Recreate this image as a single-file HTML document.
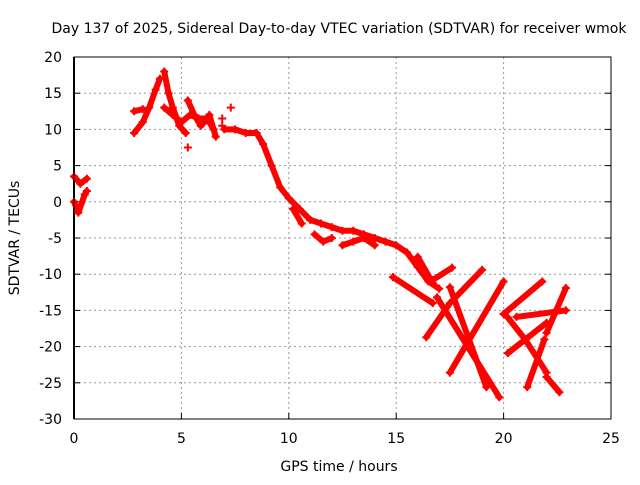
<!DOCTYPE html>
<html><head><meta charset="utf-8"><style>
body{margin:0;background:#fff}
svg text{font-family:"DejaVu Sans","Liberation Sans",sans-serif;font-size:14px;fill:#000}
</style></head><body>
<svg id="chart" width="640" height="480">
<text x="339" y="33" text-anchor="middle">Day 137 of 2025, Sidereal Day-to-day VTEC variation (SDTVAR) for receiver wmok</text>
<text x="339" y="471" text-anchor="middle">GPS time / hours</text>
<text transform="translate(19,238) rotate(-90)" text-anchor="middle">SDTVAR / TECUs</text>
<g id="grid"></g><g id="marks"></g>
<rect x="74" y="57" width="537" height="362" fill="none" stroke="#000" stroke-width="1"/>
</svg>
<script>
const xTicks=[0,5,10,15,20,25];
const yTicks=[20,15,10,5,0,-5,-10,-15,-20,-25,-30];
// each track: times (hours) and SDTVAR values (TECU)
const trackTimes=[
[0.0,0.3,0.6],[0.0,0.2,0.5,0.6],
[2.8,3.2,3.5,3.8,4.0],[2.8,3.2],
[4.2,4.4,4.6,4.9,5.2],
[4.2,4.6,5.0,5.4,5.8,6.2,6.5],
[5.3,5.6,5.9,6.0,6.3,6.6],
[7.0,7.5,8.0,8.5,8.8,9.2,9.6,10.0,10.5,11.0,11.5,12.0,12.5,13.0,13.5,14.0,14.5,15.0,15.5,16.0,16.5,17.0],
[10.2,10.6],[11.2,11.6,12.0],[12.5,13.0,13.5,14.0],
[14.85,16.7],[16.0,16.7],[16.7,17.6],
[16.4,17.5,19.0],[17.5,20.0],
[16.9,19.8],[17.5,19.2],
[20.0,21.8],[20.2,22.0],[20.2,21.0,22.0],[21.1,21.9],[22.0,22.9],[20.6,22.9],[22.0,22.6],
[5.3],[7.3],[6.9],[6.9]
];
const trackValues=[
[3.5,2.5,3.2],[0,-1.5,1,1.5],
[9.5,11,13,15.5,17],[12.5,12.8],
[18,15,13,10.5,9.5],
[13,12,11,12,11.5,11.5,10],
[14,12,10.5,10.8,12,9],
[10,10,9.5,9.5,8,5,2,0.5,-1,-2.5,-3,-3.5,-4,-4,-4.5,-5,-5.5,-6,-7,-9,-11,-12],
[-1,-3],[-4.5,-5.5,-5],[-6,-5.5,-5,-6],
[-10.4,-14],[-7.6,-11.2],[-10.8,-9.1],
[-18.7,-14,-9.4],[-23.6,-11],
[-13.2,-27],[-11.8,-25.6],
[-15.5,-11],[-20.9,-16.7],[-16,-19,-23.6],[-25.6,-19],[-18.1,-11.9],[-15.9,-15],[-24.2,-26.3],
[7.5],[13],[11.5],[10.5]
];
const NS='http://www.w3.org/2000/svg';
const X0=74,X1=611,Y0=419,Y1=57;
function xs(t){return X0+(t-0)/(25-0)*(X1-X0);}
function ys(v){return Y0-(v+30)/50*(Y0-Y1);}
const grid=document.getElementById('grid');
const marks=document.getElementById('marks');
function mk(tag,a,p){const e=document.createElementNS(NS,tag);for(const k in a)e.setAttribute(k,a[k]);p.appendChild(e);return e;}
xTicks.forEach(t=>{
  const x=xs(t);
  if(t>0&&t<25){const g=mk('line',{x1:x,x2:x,y1:Y1,y2:Y0,stroke:'#999','stroke-dasharray':'2,3'},grid);
  
  }
  const l=mk('text',{x:x,y:443,'text-anchor':'middle'},grid);l.textContent=t;
  
  
  mk('line',{x1:x,x2:x,y1:Y0,y2:Y0-6,stroke:'#000'},grid);
});
yTicks.forEach(v=>{
  const y=ys(v);
  if(v>-30&&v<20){const g=mk('line',{x1:X0,x2:X1,y1:y,y2:y,stroke:'#999','stroke-dasharray':'2,3'},grid);
  
  }
  const l=mk('text',{x:62,y:y+5,'text-anchor':'end'},grid);l.textContent=v;
  
  
  mk('line',{x1:X0,x2:X0+6,y1:y,y2:y,stroke:'#000'},grid);
  mk('line',{x1:X1,x2:X1-6,y1:y,y2:y,stroke:'#000'},grid);
});
mk('line',{x1:X0,x2:X0,y1:Y1,y2:Y0,stroke:'#000','stroke-width':2},grid);
trackTimes.forEach((ts,i)=>{
  const vs=trackValues[i];
  if(ts.length>1){
    const pts=ts.map((t,j)=>xs(t)+','+ys(vs[j])).join(' ');
    const pl=mk('polyline',{points:pts,fill:'none',stroke:'#f00','stroke-width':6,'stroke-linejoin':'round','stroke-linecap':'round'},marks);
    
    
  }
  ts.forEach((t,j)=>{
    const x=xs(t),y=ys(vs[j]);
    const p=mk('path',{d:`M${x-4},${y}H${x+4}M${x},${y-4}V${y+4}`,stroke:'#f00','stroke-width':2},marks);
    
    
  });
});
</script>
</body></html>
